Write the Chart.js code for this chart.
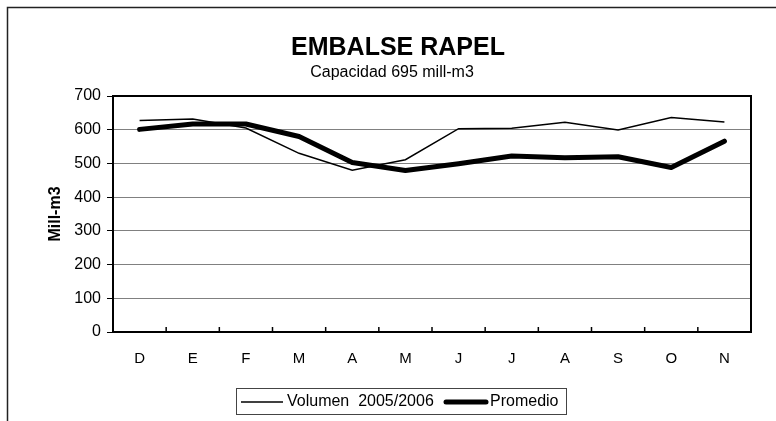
<!DOCTYPE html>
<html>
<head>
<meta charset="utf-8">
<script src="https://cdn.jsdelivr.net/npm/chart.js@4/dist/chart.umd.min.js"></script>
<style>
  html, body { margin: 0; padding: 0; background: #fff; }
  #wrap { width: 776px; height: 421px; }
</style>
</head>
<body>
<div id="wrap"><canvas id="rapelChart" width="776" height="421"></canvas></div>
<script>
var months = ['D', 'E', 'F', 'M', 'A', 'M', 'J', 'J', 'A', 'S', 'O', 'N'];
var volumen = [627, 632, 605, 530, 480, 511, 603, 604, 622, 599, 636, 623];
var promedio = [601, 617, 617, 580, 503, 479, 499, 522, 517, 520, 488, 566];
var yTicks = [0, 100, 200, 300, 400, 500, 600, 700];

var FONT = 'Liberation Sans, Arial, sans-serif';

// frame, titles, inward x ticks, plot border and legend box
var decorations = {
    id: 'decorations',
    beforeDraw: function (chart) {
        var ctx = chart.ctx;
        ctx.save();
        ctx.fillStyle = '#fff';
        ctx.fillRect(0, 0, chart.width, chart.height);
        ctx.strokeStyle = '#222';
        ctx.lineWidth = 1.5;
        ctx.strokeRect(7.5, 7.5, 900, 600);
        ctx.restore();
    },
    afterDraw: function (chart) {
        var ctx = chart.ctx;
        var area = chart.chartArea;
        var x = chart.scales.x;
        ctx.save();

        ctx.fillStyle = '#000';
        ctx.textAlign = 'center';
        ctx.textBaseline = 'alphabetic';
        ctx.font = 'bold 25px ' + FONT;
        ctx.fillText('EMBALSE RAPEL', 398, 55);
        ctx.font = '16px ' + FONT;
        ctx.fillText('Capacidad 695 mill-m3', 392, 77);

        ctx.strokeStyle = '#000';
        ctx.lineWidth = 2;
        ctx.strokeRect(area.left, area.top, area.right - area.left, area.bottom - area.top);

        ctx.lineWidth = 1.5;
        for (var i = 1; i < months.length; i++) {
            var px = (x.getPixelForValue(i - 1) + x.getPixelForValue(i)) / 2;
            ctx.beginPath();
            ctx.moveTo(px, area.bottom);
            ctx.lineTo(px, area.bottom - 5);
            ctx.stroke();
        }

        // legend
        ctx.strokeStyle = '#444';
        ctx.lineWidth = 1;
        ctx.strokeRect(236.5, 388.5, 330, 26);
        var ly = 402;
        ctx.strokeStyle = '#000';
        ctx.lineWidth = 1.5;
        ctx.beginPath();
        ctx.moveTo(241, ly);
        ctx.lineTo(283, ly);
        ctx.stroke();
        ctx.lineWidth = 5;
        ctx.lineCap = 'round';
        ctx.beginPath();
        ctx.moveTo(446, ly);
        ctx.lineTo(486, ly);
        ctx.stroke();
        ctx.font = '16px ' + FONT;
        ctx.textAlign = 'left';
        ctx.textBaseline = 'middle';
        ctx.fillText(chart.data.datasets[0].label, 287, ly);
        ctx.fillText(chart.data.datasets[1].label, 490, ly);
        ctx.restore();
    }
};

var ctx = document.getElementById('rapelChart').getContext('2d');

var data = {
    labels: months,
    datasets: [{
        label: 'Volumen  2005/2006',
        data: volumen,
        borderColor: '#000',
        borderWidth: 1.5,
        pointRadius: 0,
        tension: 0,
        fill: false
    }, {
        label: 'Promedio',
        data: promedio,
        borderColor: '#000',
        borderWidth: 5,
        borderCapStyle: 'round',
        borderJoinStyle: 'round',
        pointRadius: 0,
        tension: 0,
        fill: false
    }]
};

var options = {
    responsive: false,
    animation: false,
    layout: { padding: { left: 46, right: 25, top: 96, bottom: 49 } },
    plugins: {
        legend: { display: false },
        title: { display: false },
        tooltip: { enabled: false }
    },
    scales: {
        x: {
            type: 'category',
            offset: true,
            grid: { display: false, drawTicks: false },
            border: { display: false },
            ticks: { color: '#000', font: { family: FONT, size: 15 }, padding: 18, maxRotation: 0 },
            afterFit: function (s) { s.height = 40; }
        },
        y: {
            min: 0,
            max: 700,
            afterBuildTicks: function (s) { s.ticks = yTicks.map(function (v) { return { value: v }; }); },
            grid: { color: '#808080', lineWidth: 1, tickColor: '#000', tickLength: 6, drawTicks: true },
            border: { display: false },
            ticks: { color: '#000', font: { family: FONT, size: 16 }, padding: 6 },
            title: { display: true, text: 'Mill-m3', color: '#000', font: { family: FONT, size: 16, weight: 'bold' }, padding: 0 },
            afterFit: function (s) { s.width = 67; }
        }
    }
};

var rapelChart = new Chart(ctx, {
    type: 'line',
    data: data,
    options: options,
    plugins: [decorations]
});
</script>
</body>
</html>
